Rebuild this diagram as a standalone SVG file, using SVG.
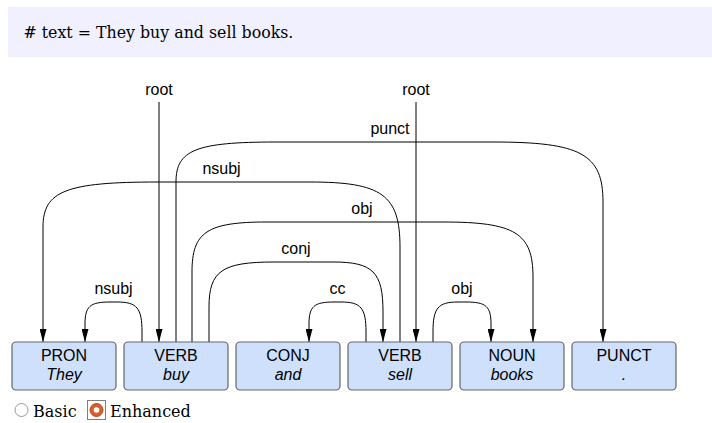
<svg xmlns="http://www.w3.org/2000/svg" width="712" height="423" viewBox="0 0 712 423">
<style>
.hdr{font-family:"DejaVu Serif",serif;font-size:15.8px;fill:#000}
.pos{font-family:"Liberation Sans",Arial,sans-serif;font-size:16px;fill:#000;text-anchor:middle}
.word{font-family:"Liberation Sans",Arial,sans-serif;font-size:16px;font-style:italic;fill:#000;text-anchor:middle}
.lbl{font-family:"Liberation Sans",Arial,sans-serif;font-size:16px;fill:#000;text-anchor:middle}
.box{fill:#cfe0fc;stroke:#666;stroke-width:1.2}
.arc{fill:none;stroke:#000;stroke-width:1;marker-end:url(#arr)}
.radio{font-family:"DejaVu Serif",serif;font-size:16px;fill:#000}
</style>
<defs>
<marker id="arr" viewBox="0 0 13 7" refX="13" refY="3.5" markerWidth="13" markerHeight="7" orient="auto" markerUnits="userSpaceOnUse">
<path d="M0,0 L13,3.5 L0,7 z" fill="#000"/>
</marker>
</defs>
<rect x="8" y="7" width="704" height="50" fill="#f0f0ff"/>
<text class="hdr" x="23.5" y="38"># text = They buy and sell books.</text>

<g id="connectors">
<path class="arc" d="M159,102 L159,342"/>
<path class="arc" d="M416,102 L416,342"/>
<path class="arc" d="M176,342 L176,182 C176,150 196,142 276,142 L493,142 C581,142 603,154 603,202 L603,342"/>
<path class="arc" d="M400,342 L400,247 C400,195 382,182 310,182 L158,182 C66,182 43,191 43,227 L43,342"/>
<path class="arc" d="M192,342 L192,272 C192,232 207,222 267,222 L443,222 C515,222 533,233 533,277 L533,342"/>
<path class="arc" d="M209,342 L209,307 C209,271 222,262 274,262 L333,262 C373,262 383,272 383,312 L383,342"/>
<path class="arc" d="M142,342 L142,332 C142,308 137,302 117,302 L110,302 C90,302 85,306.4 85,324 L85,342"/>
<path class="arc" d="M366,342 L366,332 C366,308 361,302 341,302 L334,302 C314,302 309,306.4 309,324 L309,342"/>
<path class="arc" d="M433,342 L433,332 C433,308 438,302 458,302 L466,302 C486,302 491,306.4 491,324 L491,342"/>
<text class="lbl" x="159" y="94.5">root</text>
<text class="lbl" x="416" y="94.5">root</text>
<text class="lbl" x="390" y="133.5">punct</text>
<text class="lbl" x="221.5" y="173.5">nsubj</text>
<text class="lbl" x="362" y="213.5">obj</text>
<text class="lbl" x="296" y="253.5">conj</text>
<text class="lbl" x="113.5" y="293.5">nsubj</text>
<text class="lbl" x="337.5" y="293.5">cc</text>
<text class="lbl" x="462" y="293.5">obj</text>
</g>

<g id="n1"><rect class="box" x="12" y="342" width="104" height="48" rx="4"/><text class="pos" x="64" y="361">PRON</text><text class="word" x="64" y="380">They</text></g>
<g id="n2"><rect class="box" x="124" y="342" width="104" height="48" rx="4"/><text class="pos" x="176" y="361">VERB</text><text class="word" x="176" y="380">buy</text></g>
<g id="n3"><rect class="box" x="236" y="342" width="104" height="48" rx="4"/><text class="pos" x="288" y="361">CONJ</text><text class="word" x="288" y="380">and</text></g>
<g id="n4"><rect class="box" x="348" y="342" width="104" height="48" rx="4"/><text class="pos" x="400" y="361">VERB</text><text class="word" x="400" y="380">sell</text></g>
<g id="n5"><rect class="box" x="460" y="342" width="104" height="48" rx="4"/><text class="pos" x="512" y="361">NOUN</text><text class="word" x="512" y="380">books</text></g>
<g id="n6"><rect class="box" x="572" y="342" width="104" height="48" rx="4"/><text class="pos" x="624" y="361">PUNCT</text><text class="word" x="624" y="380">.</text></g>

<g id="radios">
<circle cx="21.5" cy="410" r="6.5" fill="#fff" stroke="#9a9a9a" stroke-width="1"/>
<text class="radio" x="33" y="416.5">Basic</text>
<rect x="87.5" y="400.5" width="18" height="19" fill="none" stroke="#000" stroke-width="1" stroke-dasharray="1,1"/>
<circle cx="96.5" cy="410" r="6.5" fill="#d4602c" stroke="#b24a1e" stroke-width="1"/>
<circle cx="96.5" cy="410" r="2.8" fill="#fff"/>
<text class="radio" x="110" y="416.5">Enhanced</text>
</g>
</svg>
